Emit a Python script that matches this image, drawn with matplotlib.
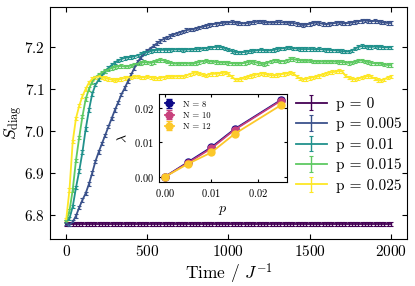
import numpy as np
import matplotlib
matplotlib.use("Agg")
import matplotlib.pyplot as plt

plt.rcParams["font.family"] = "cmr10"
plt.rcParams["mathtext.fontset"] = "cm"
plt.rcParams["axes.formatter.use_mathtext"] = True
plt.rcParams["axes.unicode_minus"] = False

# time grid (J^-1)
time = np.arange(0, 2001, 20)

s_p0 = [6.779] * 101

s_p005 = [
    6.780, 6.777, 6.784, 6.798, 6.818, 6.836, 6.852, 6.874, 6.900, 6.928,
    6.950, 6.970, 6.990, 7.010, 7.030, 7.050, 7.068, 7.087, 7.102, 7.118,
    7.134, 7.150, 7.164, 7.175, 7.184, 7.191, 7.197, 7.203, 7.209, 7.214,
    7.219, 7.222, 7.226, 7.229, 7.232, 7.235, 7.237, 7.240, 7.241, 7.242,
    7.244, 7.246, 7.248, 7.250, 7.252, 7.254, 7.255, 7.256, 7.257, 7.258,
    7.258, 7.259, 7.258, 7.257, 7.256, 7.256, 7.257, 7.258, 7.259, 7.260,
    7.260, 7.259, 7.258, 7.258, 7.258, 7.259, 7.259, 7.258, 7.258, 7.257,
    7.257, 7.255, 7.253, 7.252, 7.253, 7.255, 7.257, 7.258, 7.257, 7.255,
    7.254, 7.255, 7.256, 7.257, 7.258, 7.257, 7.256, 7.257, 7.258, 7.259,
    7.261, 7.262, 7.263, 7.262, 7.261, 7.262, 7.261, 7.259, 7.258, 7.257,
    7.257,
]

s_p01 = [
    6.785, 6.792, 6.820, 6.865, 6.905, 6.950, 7.005, 7.050, 7.088, 7.110,
    7.122, 7.132, 7.142, 7.150, 7.157, 7.163, 7.168, 7.171, 7.174, 7.175,
    7.176, 7.178, 7.180, 7.183, 7.186, 7.188, 7.190, 7.192, 7.193, 7.193,
    7.193, 7.193, 7.193, 7.194, 7.194, 7.194, 7.193, 7.194, 7.194, 7.194,
    7.195, 7.195, 7.196, 7.197, 7.198, 7.199, 7.200, 7.200, 7.199, 7.197,
    7.194, 7.190, 7.188, 7.187, 7.187, 7.188, 7.189, 7.190, 7.191, 7.192,
    7.193, 7.192, 7.191, 7.192, 7.193, 7.195, 7.196, 7.197, 7.198, 7.198,
    7.197, 7.196, 7.195, 7.195, 7.195, 7.195, 7.195, 7.194, 7.195, 7.194,
    7.193, 7.193, 7.192, 7.192, 7.191, 7.190, 7.189, 7.189, 7.192, 7.196,
    7.200, 7.202, 7.201, 7.200, 7.200, 7.201, 7.200, 7.200, 7.199, 7.199,
    7.199,
]

s_p015 = [
    6.785, 6.810, 6.860, 6.930, 6.985, 7.035, 7.076, 7.100, 7.117, 7.128,
    7.134, 7.139, 7.143, 7.146, 7.150, 7.152, 7.154, 7.155, 7.153, 7.154,
    7.156, 7.158, 7.160, 7.162, 7.164, 7.163, 7.162, 7.164, 7.167, 7.169,
    7.168, 7.165, 7.162, 7.161, 7.160, 7.160, 7.161, 7.161, 7.160, 7.160,
    7.162, 7.164, 7.166, 7.167, 7.166, 7.165, 7.164, 7.163, 7.163, 7.163,
    7.162, 7.161, 7.161, 7.160, 7.161, 7.162, 7.164, 7.165, 7.164, 7.162,
    7.160, 7.159, 7.162, 7.166, 7.168, 7.167, 7.166, 7.166, 7.168, 7.171,
    7.171, 7.169, 7.168, 7.167, 7.167, 7.167, 7.166, 7.165, 7.165, 7.165,
    7.165, 7.165, 7.165, 7.165, 7.164, 7.164, 7.163, 7.162, 7.163, 7.165,
    7.167, 7.168, 7.166, 7.164, 7.162, 7.161, 7.161, 7.160, 7.158, 7.157,
    7.157,
]

s_p025 = [
    6.790, 6.860, 6.975, 7.030, 7.060, 7.083, 7.100, 7.115, 7.124, 7.128,
    7.130, 7.128, 7.126, 7.124, 7.122, 7.121, 7.122, 7.124, 7.126, 7.127,
    7.128, 7.129, 7.129, 7.128, 7.128, 7.129, 7.128, 7.126, 7.125, 7.126,
    7.128, 7.129, 7.129, 7.129, 7.130, 7.130, 7.130, 7.132, 7.135, 7.138,
    7.139, 7.137, 7.134, 7.132, 7.135, 7.136, 7.136, 7.137, 7.138, 7.139,
    7.136, 7.129, 7.123, 7.122, 7.124, 7.127, 7.129, 7.131, 7.133, 7.135,
    7.137, 7.136, 7.134, 7.133, 7.132, 7.133, 7.135, 7.136, 7.137, 7.139,
    7.137, 7.130, 7.125, 7.123, 7.124, 7.126, 7.128, 7.129, 7.131, 7.134,
    7.137, 7.139, 7.140, 7.141, 7.143, 7.142, 7.132, 7.127, 7.124, 7.123,
    7.125, 7.127, 7.129, 7.131, 7.129, 7.125, 7.121, 7.120, 7.123, 7.127,
    7.129,
]

series = [s_p0, s_p005, s_p01, s_p015, s_p025]
labels = ["p = 0", "p = 0.005", "p = 0.01", "p = 0.015", "p = 0.025"]
errs = [0.005, 0.004, 0.004, 0.004, 0.004]

# inset: growth rate vs p
p_vals = [0.0, 0.005, 0.01, 0.015, 0.025]
lam_n8 = [0.0, 0.0043, 0.0086, 0.0139, 0.0224]
lam_n10 = [0.0, 0.0041, 0.0083, 0.0137, 0.0222]
lam_n12 = [0.0, 0.0038, 0.0071, 0.0125, 0.0209]
lam_err = [0.0002, 0.0004, 0.0005, 0.0005, 0.0006]
inset_labels = ["N = 8", "N = 10", "N = 12"]

fig = plt.figure(figsize=(4.15, 2.86), dpi=100)
ax = fig.add_axes([0.1205, 0.1643, 0.8602, 0.8112])

colors = plt.cm.viridis(np.linspace(0, 1, 5))
for s, lab, c, e in zip(series, labels, colors, errs):
    ax.errorbar(time, s, yerr=e, color=c, lw=1.3, elinewidth=1.0,
                capsize=1.6, capthick=0.8, label=lab)

ax.set_xlim(-100, 2100)
ax.set_ylim(6.743, 7.295)
ax.set_xticks([0, 500, 1000, 1500, 2000])
ax.set_yticks([6.8, 6.9, 7.0, 7.1, 7.2])
ax.tick_params(direction="in", top=True, right=True, labelsize=11, length=3.5)
ax.set_xlabel(r"Time / $J^{-1}$", fontsize=12.5, labelpad=2)
ax.set_ylabel(r"$S_{\rm diag}$", fontsize=12.5)
ax.yaxis.set_label_coords(-0.07, 0.5)
ax.legend(loc="lower right", bbox_to_anchor=(1.01, 0.16), frameon=False,
          fontsize=11, labelspacing=0.42, handlelength=2.0, handletextpad=0.6,
          borderaxespad=0.2)

axin = fig.add_axes([0.3831, 0.3636, 0.3084, 0.3077])
inset_colors = ["#0d0887", "#c8417c", "#fcc82a"]
for lam, lab, c in zip([lam_n8, lam_n10, lam_n12], inset_labels, inset_colors):
    axin.errorbar(p_vals, lam, yerr=lam_err, color=c, marker="o", ms=5,
                  lw=1.3, capsize=2.5, label=lab)
axin.set_xlim(-0.00125, 0.02625)
axin.set_ylim(-0.0015, 0.0241)
axin.set_xticks([0.0, 0.01, 0.02])
axin.set_yticks([0.0, 0.01, 0.02])
axin.tick_params(direction="in", top=True, right=True, labelsize=7.5, length=2.5)
axin.set_xlabel(r"$p$", fontsize=10, labelpad=4)
axin.set_ylabel(r"$\lambda$", fontsize=10, labelpad=3)
axin.legend(loc="upper left", frameon=False, fontsize=6.3, labelspacing=0.3,
            handlelength=1.0, handletextpad=1.0, borderaxespad=0.3)

fig.savefig("out.png", dpi=100)
